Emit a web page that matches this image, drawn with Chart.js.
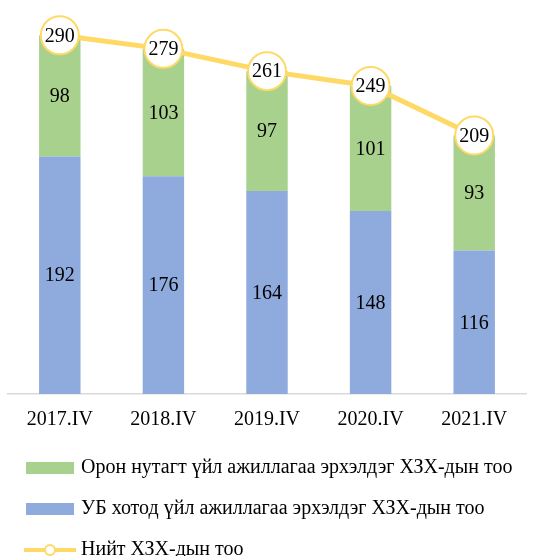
<!DOCTYPE html>
<html>
<head>
<meta charset="utf-8">
<script src="https://cdn.jsdelivr.net/npm/chart.js@4"></script>
<style>body{margin:0;background:#fff}</style>
</head>
<body>
<canvas id="chart" width="551" height="556"></canvas>
<script>
var years = ['2017.IV', '2018.IV', '2019.IV', '2020.IV', '2021.IV'];
var ubCount = [192, 176, 164, 148, 116];
var ruralCount = [98, 103, 97, 101, 93];
var totalCount = [290, 279, 261, 249, 209];
var ruralName = 'Орон нутагт үйл ажиллагаа эрхэлдэг ХЗХ-дын тоо';
var ubName = 'УБ хотод үйл ажиллагаа эрхэлдэг ХЗХ-дын тоо';
var totalName = 'Нийт ХЗХ-дын тоо';

var GREEN = '#A9D18E', BLUE = '#8FAADC', YELLOW = '#FFD966';
var FONT = '"Liberation Serif", "Times New Roman", serif';

// legend markers as little canvases
function makeBox(color) {
  var c = document.createElement('canvas');
  c.width = 48; c.height = 12;
  var x = c.getContext('2d');
  x.fillStyle = color;
  x.fillRect(0, 0, 48, 12);
  return c;
}
function makeLineMarker() {
  var c = document.createElement('canvas');
  c.width = 52; c.height = 14;
  var x = c.getContext('2d');
  x.strokeStyle = YELLOW; x.lineWidth = 4;
  x.beginPath(); x.moveTo(0, 7); x.lineTo(52, 7); x.stroke();
  x.beginPath(); x.arc(26, 7, 5, 0, Math.PI * 2);
  x.fillStyle = '#fff'; x.fill();
  x.lineWidth = 2; x.stroke();
  return c;
}

var valueLabels = {
  id: 'valueLabels',
  afterDatasetsDraw: function(chart) {
    var ctx = chart.ctx;
    ctx.save();
    ctx.font = '20px ' + FONT;
    ctx.fillStyle = '#000';
    ctx.textAlign = 'center';
    ctx.textBaseline = 'middle';
    chart.data.datasets.forEach(function(ds, i) {
      var meta = chart.getDatasetMeta(i);
      meta.data.forEach(function(el, j) {
        var y = meta.type === 'bar' ? (el.y + el.base) / 2 : el.y;
        ctx.fillText(ds.data[j], el.x, y + 1);
      });
    });
    ctx.restore();
  }
};

new Chart('chart', {
  type: 'bar',
  data: {
    labels: years,
    datasets: [
      { label: ubName, data: ubCount, backgroundColor: BLUE, order: 2 },
      { label: ruralName, data: ruralCount, backgroundColor: GREEN, order: 2 },
      {
        type: 'line', label: totalName, data: totalCount, order: 1, stack: 'total',
        borderColor: YELLOW, borderWidth: 5, tension: 0, clip: false,
        pointRadius: 19, pointBackgroundColor: '#fff', pointBorderColor: YELLOW, pointBorderWidth: 2
      }
    ]
  },
  options: {
    responsive: false,
    animation: false,
    layout: { autoPadding: false, padding: { left: 8, right: 25, top: 0, bottom: -14 } },
    datasets: { bar: { barPercentage: 0.4, categoryPercentage: 1 } },
    scales: {
      x: {
        stacked: true,
        grid: { display: false, drawTicks: false },
        border: { color: '#d9d9d9', width: 1.5 },
        ticks: { color: '#000', padding: 14, font: { family: FONT, size: 20 } },
        afterFit: function(s) { s.height = 43; }
      },
      y: { stacked: true, display: false, min: 0, max: 318.5 }
    },
    plugins: {
      tooltip: { enabled: false },
      legend: {
        position: 'bottom',
        align: 'start',
        labels: {
          color: '#000',
          font: { family: FONT, size: 20 },
          padding: 21,
          usePointStyle: true,
          pointStyleWidth: 42,
          generateLabels: function(chart) {
            return [
              { text: ruralName, pointStyle: makeBox(GREEN), fillStyle: GREEN, lineWidth: 0, datasetIndex: 1, hidden: false },
              { text: ubName, pointStyle: makeBox(BLUE), fillStyle: BLUE, lineWidth: 0, datasetIndex: 0, hidden: false },
              { text: totalName, pointStyle: makeLineMarker(), fillStyle: '#fff', lineWidth: 0, datasetIndex: 2, hidden: false }
            ];
          }
        }
      }
    }
  },
  plugins: [valueLabels]
});
</script>
</body>
</html>
